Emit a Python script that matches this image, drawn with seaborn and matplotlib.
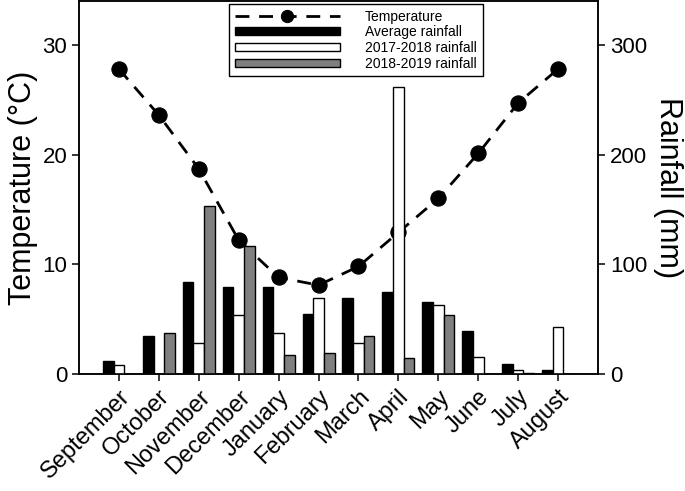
import numpy as np
import pandas as pd
import seaborn as sns
import matplotlib.pyplot as plt
from matplotlib.patches import Patch

# Monthly data (Sept -> Aug)
months = ["September", "October", "November", "December", "January", "February",
          "March", "April", "May", "June", "July", "August"]
temperature = [27.8, 23.6, 18.7, 12.2, 8.8, 8.1, 9.8, 12.9, 16.0, 20.1, 24.7, 27.8]
rain_avg = [12, 34.5, 83.5, 79, 79, 54.5, 69, 75, 66, 39.5, 9.5, 3.5]
rain_1718 = [8.5, 0, 28.5, 53.5, 37, 69, 28.5, 262, 63, 15.5, 4, 42.5]
rain_1819 = [0, 37, 153, 117, 17, 19, 35, 15, 54, 0, 1, 0]
series = ["Average rainfall", "2017-2018 rainfall", "2018-2019 rainfall"]
bar_colors = ["black", "white", "#808080"]

df = pd.DataFrame({
    "Month": months * 3,
    "Rainfall": rain_avg + rain_1718 + rain_1819,
    "Series": np.repeat(series, len(months)),
})

sns.set_style("ticks")
plt.rcParams["font.family"] = ["Liberation Sans", "DejaVu Sans"]
plt.rcParams["axes.linewidth"] = 1.1
plt.rcParams["text.color"] = "black"
plt.rcParams["axes.labelcolor"] = "black"
plt.rcParams["xtick.color"] = "black"
plt.rcParams["ytick.color"] = "black"
plt.rcParams["axes.edgecolor"] = "black"

fig = plt.figure(figsize=(6.85, 4.91), dpi=100)
ax = fig.add_axes([0.1153, 0.2383, 0.7577, 0.7597])
ax2 = ax.twinx()

# Temperature line (left axis, drawn under the bars)
sns.lineplot(x=np.arange(len(months)), y=temperature, ax=ax, color="black",
             linestyle=(0, (5, 3.5)), linewidth=2, marker="o", markersize=11,
             markeredgecolor="black", label="Temperature", legend=False)

# Rainfall bars (right axis)
sns.barplot(data=df, x="Month", y="Rainfall", hue="Series", ax=ax2,
            palette=bar_colors, edgecolor="black",
            linewidth=1, legend=False, width=0.8)

ax.set_xlim(-1, 12)
ax.set_ylim(0, 34)
ax2.set_ylim(0, 340)
ax.set_yticks([0, 10, 20, 30])
ax2.set_yticks([0, 100, 200, 300])
ax.set_xticks(range(len(months)))
ax.set_xticklabels(months, rotation=45, ha="right", rotation_mode="anchor")

for a in (ax, ax2):
    a.tick_params(direction="out", length=5, width=1.1, labelsize=16,
                  color="black", labelcolor="black")
ax.tick_params(axis="x", labelsize=17)
ax.set_xlabel("")
ax2.set_xlabel("")
ax.set_ylabel("Temperature (°C)", fontsize=22, labelpad=3)
ax2.set_ylabel("Rainfall (mm)", fontsize=22, rotation=270, labelpad=26)

# Combined legend
h1, l1 = ax.get_legend_handles_labels()
h2 = [Patch(facecolor=c, edgecolor="black", linewidth=1) for c in bar_colors]
leg = ax2.legend(h1 + h2, l1 + series, loc="upper left",
                 bbox_to_anchor=(0.289, 0.992), borderaxespad=0, fontsize=10,
                 handlelength=7.6, handleheight=0.5, handletextpad=1.8,
                 labelspacing=0.12, fancybox=False, framealpha=1,
                 edgecolor="black", numpoints=1, markerscale=0.8)
leg.get_frame().set_linewidth(1)

plt.savefig("out.png", dpi=100)
